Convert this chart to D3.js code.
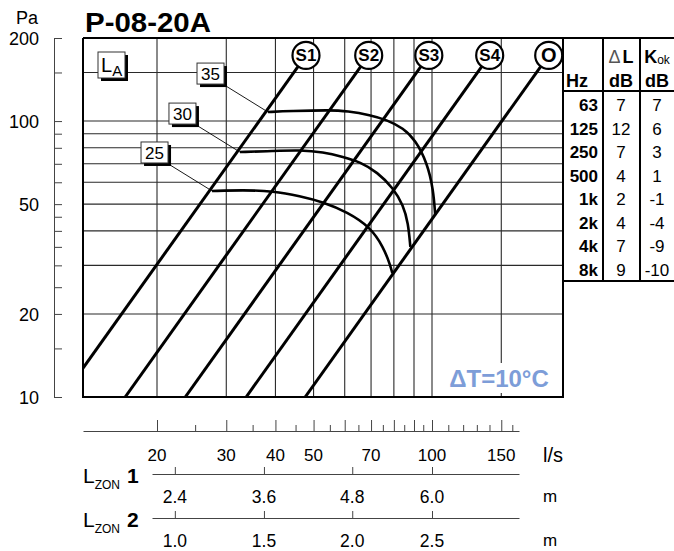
<!DOCTYPE html>
<html>
<head>
<meta charset="utf-8">
<script src="https://cdnjs.cloudflare.com/ajax/libs/d3/7.8.5/d3.min.js"></script>
<style>
  body { margin: 0; background: #fff; }
  svg { display: block; font-family: "Liberation Sans", Arial, sans-serif; }
</style>
</head>
<body>
<svg id="chart" width="674" height="551"></svg>
<script>
// grid + tick values
const gridFlow = [20, 30, 40, 50, 60, 70, 80, 90, 100, 150];
const gridPa = [20, 30, 40, 50, 60, 70, 80, 90, 100, 150];
const paTicks = [10, 15, 20, 25, 30, 35, 40, 45, 50, 60, 70, 80, 90, 100, 150, 200];
const paLabels = [10, 20, 50, 100, 200];
const flowMajor = [20, 30, 40, 50, 60, 70, 80, 90, 100, 150];
const flowMinor = [25, 35, 45, 55, 65, 75, 85, 95, 110, 120, 130, 140, 160];
const flowLabels = [20, 30, 40, 50, 70, 100, 150];

// throw length (m) marks, placed at flow values
const lzonFlow = [22.2, 37.4, 62.7, 100];
const lzon1 = ["2.4", "3.6", "4.8", "6.0"];
const lzon2 = ["1.0", "1.5", "2.0", "2.5"];

// damper positions: flow (l/s) at 10 Pa, p ~ q^2
const dampers = ["S1", "S2", "S3", "S4", "O"];
const damperFlow10 = [11.5, 16.6, 23.6, 33.7, 47.6];
const damperMarkPa = 173;

// LA noise curves [l/s, Pa]
const laLevels = ["25", "30", "35"];
const la25 = [[27.6, 55.8], [33.1, 56.2], [39.5, 55.8], [46.2, 53.5], [52.9, 50.9], [60.9, 46.8], [69.7, 41.3], [75.2, 35.0], [78.3, 30.1], [79.3, 28.1]];
const la30 = [[32.5, 77.2], [39.5, 77.9], [46.2, 78.5], [52.9, 77.2], [59.5, 74.1], [65.7, 71.0], [72.6, 65.3], [79.7, 57.2], [84.5, 49.6], [87.0, 42.7], [88.1, 35.0]];
const la35 = [[38.3, 107.8], [43.6, 108.7], [55.1, 109.6], [60.9, 108.7], [69.7, 105.1], [77.0, 100.8], [84.5, 94.3], [90.7, 85.4], [97.3, 70.4], [100.8, 56.2], [101.9, 45.6]];

// correction table
const bands = ["63", "125", "250", "500", "1k", "2k", "4k", "8k"];
const deltaL = [7, 12, 7, 4, 2, 4, 7, 9];
const kok = [7, 6, 3, 1, -1, -4, -9, -10];

const svg = d3.select("#chart");
const pl = 83, pr = 563, pt = 38, pb = 397;

const x = d3.scaleLog().domain([20, 100]).range([157, 432]);
const y = d3.scaleLog().domain([10, 200]).range([397, 38]);

svg.append("defs").append("clipPath").attr("id", "plotclip")
  .append("rect").attr("x", pl).attr("y", pt)
  .attr("width", pr - pl).attr("height", pb - pt);

// title
svg.append("text").attr("x", 85).attr("y", 32)
  .attr("font-size", 27).attr("font-weight", "bold")
  .attr("textLength", 126).attr("lengthAdjust", "spacingAndGlyphs")
  .text("P-08-20A");

// grid
const grid = svg.append("g").attr("stroke", "#2a2a2a").attr("stroke-width", 1.1);
grid.selectAll(".gx").data(gridFlow).enter().append("line")
  .attr("x1", d => x(d)).attr("x2", d => x(d))
  .attr("y1", pt).attr("y2", pb);
grid.selectAll(".gy").data(gridPa).enter().append("line")
  .attr("x1", pl).attr("x2", pr)
  .attr("y1", d => y(d)).attr("y2", d => y(d));

// dT label with white backing
svg.append("rect").attr("x", 443).attr("y", 363).attr("width", 112).attr("height", 30).attr("fill", "#fff");
svg.append("text").attr("x", 499).attr("y", 387).attr("text-anchor", "middle")
  .attr("font-size", 24).attr("font-weight", "bold").attr("fill", "#7d9dd8")
  .text("ΔT=10°C");

// damper lines
const plot = svg.append("g").attr("clip-path", "url(#plotclip)");
const line = d3.line().x(d => x(d[0])).y(d => y(d[1]));
dampers.forEach((name, i) => {
  const q10 = damperFlow10[i];
  const qTop = q10 * Math.sqrt(damperMarkPa / 10);
  plot.append("path")
    .attr("d", line([[q10, 10], [qTop, damperMarkPa]]))
    .attr("fill", "none").attr("stroke", "#000").attr("stroke-width", 3);
});

// LA curves
const smooth = d3.line().x(d => x(d[0])).y(d => y(d[1])).curve(d3.curveBasis);
[la25, la30, la35].forEach((pts, i) => {
  plot.append("path").attr("d", smooth(pts))
    .attr("fill", "none").attr("stroke", "#000").attr("stroke-width", 2.6);
  const sx = x(pts[0][0]), sy = y(pts[0][1]);
  const bx = sx - 71, by = sy - 49, bw = 27, bh = 21;
  svg.append("line").attr("x1", bx + bw + 2).attr("y1", by + bh + 2)
    .attr("x2", sx).attr("y2", sy).attr("stroke", "#000").attr("stroke-width", 0.9);
  svg.append("rect").attr("x", bx + 3).attr("y", by + 3).attr("width", bw).attr("height", bh).attr("fill", "#000");
  svg.append("rect").attr("x", bx).attr("y", by).attr("width", bw).attr("height", bh)
    .attr("fill", "#fff").attr("stroke", "#333").attr("stroke-width", 1);
  svg.append("text").attr("x", bx + bw / 2).attr("y", by + 17).attr("text-anchor", "middle")
    .attr("font-size", 17).text(laLevels[i]);
});

// LA legend box
svg.append("rect").attr("x", 101).attr("y", 55).attr("width", 27).attr("height", 26).attr("fill", "#000");
svg.append("rect").attr("x", 98).attr("y", 52).attr("width", 27).attr("height", 26)
  .attr("fill", "#fff").attr("stroke", "#333").attr("stroke-width", 1);
const laText = svg.append("text").attr("x", 101).attr("y", 72).attr("font-size", 20);
laText.append("tspan").text("L");
laText.append("tspan").attr("font-size", 15).attr("dy", 4).text("A");

// damper circles
dampers.forEach((name, i) => {
  const qTop = damperFlow10[i] * Math.sqrt(damperMarkPa / 10);
  const cx = x(qTop), cy = y(damperMarkPa);
  svg.append("circle").attr("cx", cx).attr("cy", cy).attr("r", 13.5)
    .attr("fill", "#fff").attr("stroke", "#000").attr("stroke-width", 2.2);
  svg.append("text").attr("x", cx).attr("y", cy + (name === "O" ? 7 : 6))
    .attr("text-anchor", "middle").attr("font-weight", "bold")
    .attr("font-size", name === "O" ? 20 : 17).text(name);
});

// frame
svg.append("line").attr("x1", pl).attr("x2", 674).attr("y1", pt).attr("y2", pt)
  .attr("stroke", "#000").attr("stroke-width", 2);
svg.append("path").attr("d", `M${pl},${pt}V${pb}H${pr}V${pt}`)
  .attr("fill", "none").attr("stroke", "#000").attr("stroke-width", 2);

// left pressure axis
const yAxis = svg.append("g").attr("transform", "translate(54,0)")
  .call(d3.axisRight(y).tickValues(paTicks).tickSize(8).tickSizeOuter(8).tickFormat(""));
yAxis.selectAll("path,line").attr("stroke", "#444");
svg.selectAll(".ylab").data(paLabels).enter().append("text")
  .attr("x", 39).attr("y", d => y(d) + 7).attr("text-anchor", "end")
  .attr("font-size", 18).text(d => d);
svg.append("text").attr("x", 27).attr("y", 24).attr("text-anchor", "middle")
  .attr("font-size", 18).text("Pa");

// flow axis
const xAx = x.copy().domain([x.invert(pl), x.invert(519)]).range([pl, 519]);
const fx = svg.append("g").attr("transform", "translate(0,431)");
fx.call(d3.axisTop(xAx).tickValues(flowMajor).tickSize(11).tickSizeOuter(0).tickFormat(""));
const fxm = svg.append("g").attr("transform", "translate(0,431)")
  .call(d3.axisTop(xAx).tickValues(flowMinor).tickSize(6).tickSizeOuter(0).tickFormat(""));
fxm.select(".domain").remove();
svg.selectAll(".flab").data(flowLabels).enter().append("text")
  .attr("x", d => x(d)).attr("y", 461).attr("text-anchor", "middle")
  .attr("font-size", 17).text(d => d);
svg.append("text").attr("x", 543).attr("y", 462).attr("font-size", 20).text("l/s");

// throw length axes
const zx = x.copy().domain([x.invert(152), x.invert(519)]).range([152, 519]);
[[474, lzon1, "1"], [518, lzon2, "2"]].forEach(([ay, labels, num]) => {
  svg.append("g").attr("transform", `translate(0,${ay})`)
    .call(d3.axisTop(zx).tickValues(lzonFlow).tickSize(7).tickSizeOuter(0).tickFormat(""));
  svg.selectAll(null).data(labels).enter().append("text")
    .attr("x", (d, i) => x(lzonFlow[i])).attr("y", ay + 29).attr("text-anchor", "middle")
    .attr("font-size", 17.5).text(d => d);
  svg.append("text").attr("x", 543).attr("y", ay + 28).attr("font-size", 17).text("m");
  const t = svg.append("text").attr("x", 83).attr("y", ay + 9).attr("font-size", 21);
  t.append("tspan").text("L");
  t.append("tspan").attr("font-size", 12).attr("dy", 6).text("ZON");
  t.append("tspan").attr("dy", -6).attr("dx", 7).attr("font-weight", "bold").text(num);
});
svg.selectAll(".tick line, .domain").attr("stroke", "#444");

// table
const tbl = svg.append("g");
const tl = (x1, y1, x2, y2) => tbl.append("line").attr("x1", x1).attr("y1", y1)
  .attr("x2", x2).attr("y2", y2).attr("stroke", "#000").attr("stroke-width", 2);
tl(603, pt, 603, 281);
tl(640, pt, 640, 281);
tl(563, 91, 674, 91);
tl(563, 281, 674, 281);
const hd = tbl.append("text").attr("x", 621).attr("y", 63).attr("text-anchor", "middle").attr("font-size", 18);
hd.append("tspan").attr("fill", "#555").text("Δ");
hd.append("tspan").attr("font-weight", "bold").attr("dx", 2).text("L");
const hk = tbl.append("text").attr("x", 657).attr("y", 63).attr("text-anchor", "middle").attr("font-size", 18);
hk.append("tspan").attr("font-weight", "bold").text("K");
hk.append("tspan").attr("font-size", 12).attr("dy", 1).text("ok");
tbl.append("text").attr("x", 566).attr("y", 87).attr("font-size", 18).attr("font-weight", "bold").text("Hz");
tbl.append("text").attr("x", 621).attr("y", 87).attr("text-anchor", "middle").attr("font-size", 18).attr("font-weight", "bold").text("dB");
tbl.append("text").attr("x", 657).attr("y", 87).attr("text-anchor", "middle").attr("font-size", 18).attr("font-weight", "bold").text("dB");
const rowY = i => 111 + i * 23.57;
tbl.selectAll(".band").data(bands).enter().append("text")
  .attr("x", 598).attr("y", (d, i) => rowY(i)).attr("text-anchor", "end")
  .attr("font-size", 17).attr("font-weight", "bold").text(d => d);
tbl.selectAll(".dl").data(deltaL).enter().append("text")
  .attr("x", 621).attr("y", (d, i) => rowY(i)).attr("text-anchor", "middle")
  .attr("font-size", 17).text(d => d);
tbl.selectAll(".kk").data(kok).enter().append("text")
  .attr("x", 657).attr("y", (d, i) => rowY(i)).attr("text-anchor", "middle")
  .attr("font-size", 17).text(d => d);
</script>
</body>
</html>
